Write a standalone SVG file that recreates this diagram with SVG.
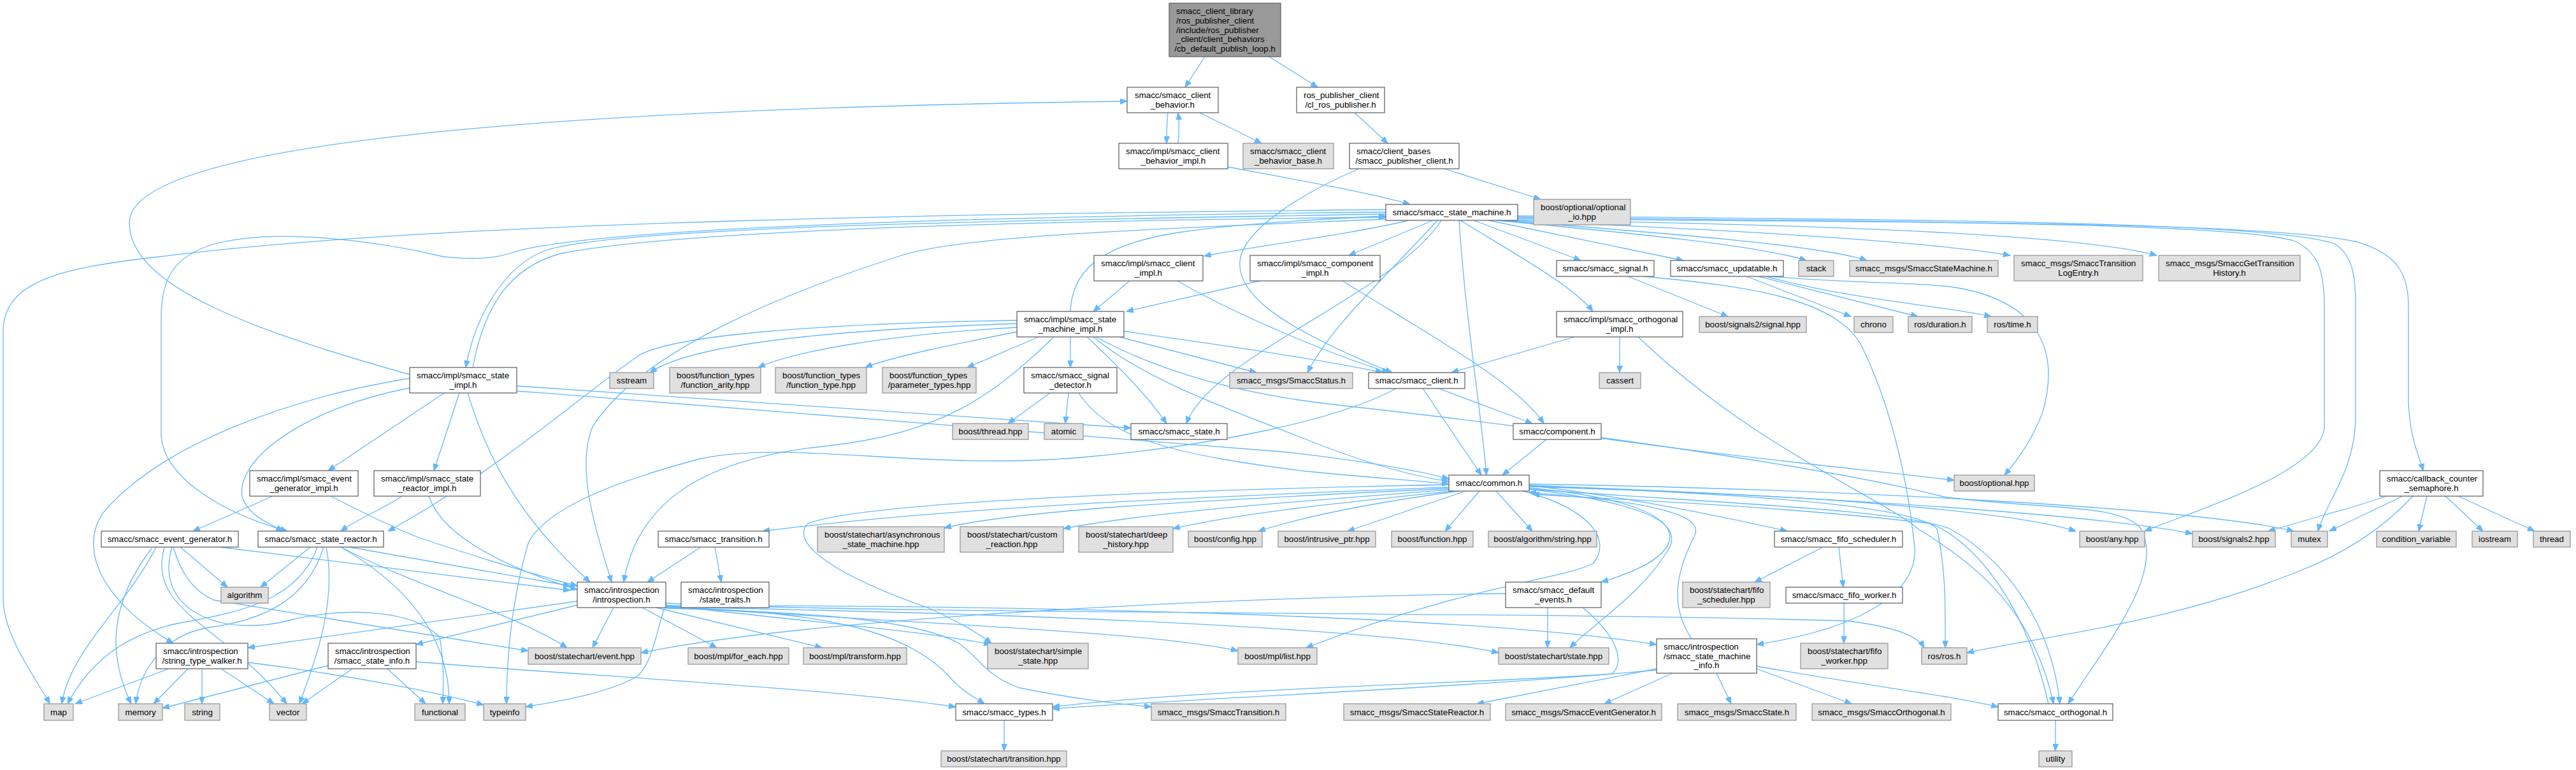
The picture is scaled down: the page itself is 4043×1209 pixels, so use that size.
<svg xmlns="http://www.w3.org/2000/svg" width="4043" height="1209" viewBox="0 0 4043 1209">
<defs>
<style>
text{font-family:"Liberation Sans",Arial,Helvetica,sans-serif;font-size:13.33px;fill:#000}
.m{text-anchor:middle}
rect{stroke-width:1.3}
.w{fill:#fff;stroke:#666}
.g{fill:#e0e0e0;stroke:#999}
.r{fill:#999;stroke:#666}
#edges path{fill:none;stroke:#63b8ff;stroke-width:1.3;marker-end:url(#a)}
</style>
<marker id="a" markerWidth="12" markerHeight="9" refX="11" refY="4.5" orient="auto" markerUnits="userSpaceOnUse"><path d="M0,0 L11,4.5 L0,9 z" fill="#63b8ff" stroke="#63b8ff" stroke-width="1"/></marker>
</defs>
<rect width="4043" height="1209" fill="#fff"/>
<g id="edges">
<path d="M1891,89 L1860,137"/>
<path d="M1992,89 L2068,137"/>
<path d="M1833,177 C1831,195 1831,210 1831,225"/>
<path d="M1849,225 C1851,207 1851,193 1849,177"/>
<path d="M1883,177 L1980,225"/>
<path d="M1927,262 C2050,285 2160,305 2213,321"/>
<path d="M2126,177 L2178,225"/>
<path d="M2267,265 L2418,313"/>
<path d="M2133,265 C2050,300 1950,360 1946,410 C1942,460 2000,510 2185,585"/>
<path d="M643,588 C400,520 203,450 203,350 C203,220 900,170 1769,159"/>
<path d="M2211,346 C2120,368 1960,388 1890,402"/>
<path d="M2249,346 L2117,401"/>
<path d="M2313,346 L2481,409"/>
<path d="M2336,346 L2642,409"/>
<path d="M2348,346 C2550,365 2760,385 2835,409"/>
<path d="M2355,346 C2600,365 2860,385 2930,409"/>
<path d="M2362,346 C2700,360 3020,378 3155,401"/>
<path d="M2370,345 C2800,352 3250,365 3385,401"/>
<path d="M2380,343 C2900,350 3550,345 3700,380 C3770,400 3780,440 3780,480 L3780,630 C3782,690 3797,715 3803,739"/>
<path d="M2380,341 C2900,348 3500,348 3600,378 C3640,395 3648,430 3648,480 L3648,670 C3645,740 3450,800 3366,834"/>
<path d="M2380,339 C2900,345 3560,345 3665,383 C3692,402 3697,430 3697,480 L3697,660 C3695,740 3650,790 3638,834"/>
<path d="M2175,329 C1600,335 700,345 251,403 C100,420 5,440 5,520 L5,940 C5,1000 60,1070 78,1105"/>
<path d="M2175,336 C1700,345 1000,352 860,392 C790,415 745,500 731,577"/>
<path d="M742,577 C760,480 800,420 880,398 C1100,355 1800,345 2175,341"/>
<path d="M2292,346 C2380,400 2470,450 2500,489"/>
<path d="M2256,346 C2180,430 2090,510 2052,585"/>
<path d="M2262,346 C2190,460 1900,560 1862,665"/>
<path d="M2290,346 C2300,500 2325,650 2333,746"/>
<path d="M2175,344 C1800,360 1500,370 1409,403 C1200,470 1000,560 930,670 C905,730 930,820 960,914"/>
<path d="M2175,333 C1500,340 900,360 800,398 C760,410 720,405 696,403 C600,380 430,355 330,385 C270,405 253,440 253,500 L253,680 C253,740 330,800 451,834"/>
<path d="M1680,489 C1682,430 1720,385 1850,365 C1950,350 2100,343 2175,339"/>
<path d="M1596,508 C1400,515 1100,530 1020,585"/>
<path d="M1596,514 C1400,525 1250,550 1190,577"/>
<path d="M1596,521 C1500,540 1400,560 1358,577"/>
<path d="M1630,529 L1518,577"/>
<path d="M1680,529 L1680,577"/>
<path d="M1757,529 L1972,585"/>
<path d="M1706,529 C1760,580 1800,620 1831,665"/>
<path d="M1764,520 C1900,540 2050,560 2170,585"/>
<path d="M1716,529 C1800,600 1950,650 2050,690 C2150,730 2220,748 2274,756"/>
<path d="M1654,529 C1560,620 1480,680 1300,700 C1100,720 1000,790 979,914"/>
<path d="M1596,503 C1300,508 1050,525 1000,560 C900,630 780,740 609,834"/>
<path d="M1720,529 C1850,600 2000,625 2100,636 C2500,680 2900,740 3050,780 C3200,800 3330,790 3360,830 C3400,900 3300,1020 3246,1105"/>
<path d="M1648,617 L1582,665"/>
<path d="M1677,617 L1672,665"/>
<path d="M1693,617 C1740,690 1850,715 2050,740 C2150,750 2230,755 2274,760"/>
<path d="M1773,441 L1716,489"/>
<path d="M1848,441 C1950,500 2100,560 2180,585"/>
<path d="M1977,441 L1768,489"/>
<path d="M2107,441 C2250,530 2380,600 2423,665"/>
<path d="M2471,529 L2278,585"/>
<path d="M2542,529 L2542,585"/>
<path d="M2571,529 C2750,700 2950,780 3010,830 C3090,880 3190,950 3223,1105"/>
<path d="M2555,434 L2712,497"/>
<path d="M2580,434 C2750,450 2880,470 2920,540 C2970,640 2995,760 3005,860 C3010,940 2900,990 2757,1012"/>
<path d="M2741,434 L2905,497"/>
<path d="M2760,434 L3010,497"/>
<path d="M2772,434 C2900,470 3050,480 3125,497"/>
<path d="M2780,434 C2900,445 3000,443 3060,450 C3200,470 3235,550 3205,650 C3185,700 3160,730 3146,746"/>
<path d="M2233,610 L2325,746"/>
<path d="M2258,610 L2405,665"/>
<path d="M2191,610 C2100,660 1900,700 1700,718 C1450,740 1250,690 1100,720 C950,760 860,800 830,850 C800,950 795,1050 795,1105"/>
<path d="M2427,690 L2358,746"/>
<path d="M2513,688 C2700,715 2950,740 3067,754"/>
<path d="M697,617 L515,739"/>
<path d="M721,617 L681,739"/>
<path d="M811,606 C1200,635 1500,655 1775,672"/>
<path d="M811,614 C1300,650 1800,690 2020,710 C2150,725 2230,740 2274,752"/>
<path d="M734,617 C760,700 800,800 926,914"/>
<path d="M643,594 C450,625 250,700 161,806 C120,870 170,950 272,1010"/>
<path d="M644,609 C480,640 370,720 380,780 C390,810 420,820 444,834"/>
<path d="M428,779 L303,834"/>
<path d="M519,779 C560,800 620,830 660,845 C750,875 850,905 906,920"/>
<path d="M631,779 C600,800 560,815 535,834"/>
<path d="M673,779 C690,830 760,880 906,926"/>
<path d="M2274,765 C1900,780 1500,795 1197,834"/>
<path d="M2274,767 C1900,785 1600,800 1482,829"/>
<path d="M2274,769 C2000,790 1800,805 1669,830"/>
<path d="M2280,771 C2100,790 1950,805 1841,830"/>
<path d="M2290,771 C2150,790 2050,810 1975,834"/>
<path d="M2300,771 L2115,834"/>
<path d="M2322,771 L2268,834"/>
<path d="M2348,771 L2405,834"/>
<path d="M2400,766 C2550,780 2630,810 2620,850 C2610,880 2560,900 2513,914"/>
<path d="M2400,762 C2550,780 2700,810 2805,834"/>
<path d="M2400,768 C2580,790 2640,820 2620,860 C2580,930 2500,980 2464,1017"/>
<path d="M2390,771 C2500,800 2530,850 2500,885 C2450,910 2300,920 2050,1017"/>
<path d="M2274,761 C1800,770 1350,790 1268,822 C1240,850 1300,900 1461,956 C1500,975 1530,990 1556,1010"/>
<path d="M2400,762 C2700,775 3000,790 3040,830 C3055,900 3053,960 3053,1017"/>
<path d="M2400,763 C2800,775 3150,800 3258,834"/>
<path d="M2400,764 C2900,780 3300,810 3441,838"/>
<path d="M2400,760 C2900,768 3450,798 3600,834"/>
<path d="M2400,768 C2700,790 2980,800 3060,830 C3150,880 3220,980 3233,1105"/>
<path d="M3215,1105 C3180,950 3100,850 3030,822 C2800,795 2550,785 2405,776"/>
<path d="M2655,1003 C2620,950 2630,900 2660,840 C2680,795 2500,782 2400,773"/>
<path d="M2600,1050 L2318,1105"/>
<path d="M2625,1057 L2518,1105"/>
<path d="M2694,1057 L2717,1105"/>
<path d="M2757,1050 L2906,1105"/>
<path d="M2757,1046 C2950,1080 3050,1090 3136,1110"/>
<path d="M2600,1052 C2300,1080 1900,1095 1652,1113"/>
<path d="M2429,954 L2429,1017"/>
<path d="M2363,932 C2000,936 1300,965 1006,1025"/>
<path d="M2484,954 C2540,1000 2550,1040 2530,1058 C2400,1070 1900,1080 1652,1110"/>
<path d="M1100,859 L1016,914"/>
<path d="M1122,859 L1132,914"/>
<path d="M906,944 L389,1017"/>
<path d="M906,950 L653,1012"/>
<path d="M963,954 L930,1017"/>
<path d="M1045,948 C1030,990 1025,1040 1000,1062 C950,1090 880,1100 825,1110"/>
<path d="M1008,954 L1125,1017"/>
<path d="M1030,954 L1290,1017"/>
<path d="M1045,950 C1250,975 1450,990 1555,1012"/>
<path d="M1045,952 C1400,978 1800,990 1943,1022"/>
<path d="M1045,953 C1700,965 2200,990 2352,1025"/>
<path d="M1045,951 C1600,950 2300,965 2600,1012"/>
<path d="M1045,947 C1400,965 2400,960 2900,975 C2980,985 3010,1000 3020,1017"/>
<path d="M1045,954 C1300,959 1430,993 1493,1066 C1510,1085 1530,1095 1545,1105"/>
<path d="M1045,955 C1300,962 1440,975 1505,1010 C1540,1035 1545,1060 1600,1080 C1700,1100 1760,1105 1807,1110"/>
<path d="M283,859 L357,922"/>
<path d="M245,859 C200,950 110,1020 97,1105"/>
<path d="M238,861 C170,950 170,1030 206,1105"/>
<path d="M258,859 C230,960 350,980 450,1105"/>
<path d="M270,859 C240,960 350,1000 450,975 C550,950 650,960 690,1000 C697,1040 696,1070 695,1105"/>
<path d="M272,859 C290,920 320,935 335,942 L829,1022"/>
<path d="M345,859 L895,927"/>
<path d="M487,859 L409,922"/>
<path d="M498,859 C470,940 380,960 300,975 C200,990 140,1040 106,1105"/>
<path d="M508,859 C480,950 400,975 330,985 C260,995 220,1050 213,1105"/>
<path d="M512,859 C530,950 490,1050 470,1105"/>
<path d="M535,859 C640,920 705,1000 705,1105"/>
<path d="M535,859 C650,920 800,960 890,1017"/>
<path d="M548,859 L895,920"/>
<path d="M265,1050 L118,1105"/>
<path d="M295,1050 L241,1105"/>
<path d="M317,1050 L317,1105"/>
<path d="M347,1050 L430,1105"/>
<path d="M389,1040 C550,1060 700,1090 759,1107"/>
<path d="M515,1045 L255,1112"/>
<path d="M553,1050 L474,1105"/>
<path d="M608,1050 L668,1105"/>
<path d="M653,1039 C900,1060 1300,1080 1500,1110"/>
<path d="M2861,859 L2754,914"/>
<path d="M2886,859 L2893,922"/>
<path d="M2894,947 L2894,1010"/>
<path d="M1576,1131 L1576,1179"/>
<path d="M3226,1131 L3226,1179"/>
<path d="M3745,779 C3700,795 3660,805 3650,808 L3560,834"/>
<path d="M3771,779 L3656,834"/>
<path d="M3809,779 L3796,834"/>
<path d="M3838,779 L3897,834"/>
<path d="M3858,779 L3978,834"/>
<path d="M3787,779 C3740,830 3680,870 3600,900 C3400,980 3200,1000 3087,1025"/>
</g>
<g id="n0"><rect class="r" x="1835" y="5" width="175" height="84"/><text x="1846" y="22">smacc_client_library</text><text x="1846" y="37">/ros_publisher_client</text><text x="1846" y="51.5">/include/ros_publisher</text><text x="1846" y="66">_client/client_behaviors</text><text class="m" x="1922.5" y="81">/cb_default_publish_loop.h</text></g>
<g id="n1"><rect class="w" x="1769" y="137" width="143" height="40"/><text x="1781" y="154">smacc/smacc_client</text><text class="m" x="1840.5" y="169">_behavior.h</text></g>
<g id="n2"><rect class="w" x="1756" y="225" width="171" height="40"/><text x="1767" y="242">smacc/impl/smacc_client</text><text class="m" x="1841.5" y="257">_behavior_impl.h</text></g>
<g id="n3"><rect class="g" x="1951" y="225" width="142" height="40"/><text x="1962" y="242">smacc/smacc_client</text><text class="m" x="2022" y="257">_behavior_base.h</text></g>
<g id="n4"><rect class="w" x="2035" y="137" width="138" height="40"/><text x="2046" y="154">ros_publisher_client</text><text class="m" x="2104" y="169">/cl_ros_publisher.h</text></g>
<g id="n5"><rect class="w" x="2118" y="225" width="172" height="40"/><text x="2129" y="242">smacc/client_bases</text><text class="m" x="2204" y="257">/smacc_publisher_client.h</text></g>
<g id="n6"><rect class="w" x="2175" y="321" width="207" height="25"/><text class="m" x="2278.5" y="338">smacc/smacc_state_machine.h</text></g>
<g id="n7"><rect class="g" x="2407" y="313" width="152" height="40"/><text x="2418" y="330">boost/optional/optional</text><text class="m" x="2483" y="345">_io.hpp</text></g>
<g id="n8"><rect class="w" x="1717" y="401" width="171" height="40"/><text x="1728" y="418">smacc/impl/smacc_client</text><text class="m" x="1802.5" y="433">_impl.h</text></g>
<g id="n9"><rect class="w" x="1962" y="401" width="204" height="40"/><text x="1973" y="418">smacc/impl/smacc_component</text><text class="m" x="2064" y="433">_impl.h</text></g>
<g id="n10"><rect class="w" x="2443" y="409" width="153" height="25"/><text class="m" x="2519.5" y="426">smacc/smacc_signal.h</text></g>
<g id="n11"><rect class="w" x="2622" y="409" width="177" height="25"/><text class="m" x="2710.5" y="426">smacc/smacc_updatable.h</text></g>
<g id="n12"><rect class="g" x="2823" y="409" width="55" height="25"/><text class="m" x="2850.5" y="426">stack</text></g>
<g id="n13"><rect class="g" x="2903" y="409" width="233" height="25"/><text class="m" x="3019.5" y="426">smacc_msgs/SmaccStateMachine.h</text></g>
<g id="n14"><rect class="g" x="3161" y="401" width="202" height="40"/><text x="3172" y="418">smacc_msgs/SmaccTransition</text><text class="m" x="3262" y="433">LogEntry.h</text></g>
<g id="n15"><rect class="g" x="3388" y="401" width="222" height="40"/><text x="3399" y="418">smacc_msgs/SmaccGetTransition</text><text class="m" x="3499" y="433">History.h</text></g>
<g id="n16"><rect class="w" x="3735" y="739" width="162" height="40"/><text x="3746" y="756">smacc/callback_counter</text><text class="m" x="3816" y="771">_semaphore.h</text></g>
<g id="n17"><rect class="w" x="1596" y="489" width="168" height="40"/><text x="1607" y="506">smacc/impl/smacc_state</text><text class="m" x="1680" y="521">_machine_impl.h</text></g>
<g id="n18"><rect class="w" x="2443" y="489" width="198" height="40"/><text x="2454" y="506">smacc/impl/smacc_orthogonal</text><text class="m" x="2542" y="521">_impl.h</text></g>
<g id="n19"><rect class="g" x="2667" y="497" width="168" height="25"/><text class="m" x="2751" y="514">boost/signals2/signal.hpp</text></g>
<g id="n20"><rect class="g" x="2910" y="497" width="61" height="25"/><text class="m" x="2940.5" y="514">chrono</text></g>
<g id="n21"><rect class="g" x="2995" y="497" width="100" height="25"/><text class="m" x="3045" y="514">ros/duration.h</text></g>
<g id="n22"><rect class="g" x="3119" y="497" width="79" height="25"/><text class="m" x="3158.5" y="514">ros/time.h</text></g>
<g id="n23"><rect class="w" x="643" y="577" width="168" height="40"/><text x="654" y="594">smacc/impl/smacc_state</text><text class="m" x="727" y="609">_impl.h</text></g>
<g id="n24"><rect class="g" x="957" y="585" width="69" height="25"/><text class="m" x="991.5" y="602">sstream</text></g>
<g id="n25"><rect class="g" x="1051" y="577" width="143" height="40"/><text x="1062" y="594">boost/function_types</text><text class="m" x="1122.5" y="609">/function_arity.hpp</text></g>
<g id="n26"><rect class="g" x="1217" y="577" width="143" height="40"/><text x="1228" y="594">boost/function_types</text><text class="m" x="1288.5" y="609">/function_type.hpp</text></g>
<g id="n27"><rect class="g" x="1385" y="577" width="147" height="40"/><text x="1396" y="594">boost/function_types</text><text class="m" x="1458.5" y="609">/parameter_types.hpp</text></g>
<g id="n28"><rect class="w" x="1607" y="577" width="146" height="40"/><text x="1618" y="594">smacc/smacc_signal</text><text class="m" x="1680" y="609">_detector.h</text></g>
<g id="n29"><rect class="g" x="1930" y="585" width="193" height="25"/><text class="m" x="2026.5" y="602">smacc_msgs/SmaccStatus.h</text></g>
<g id="n30"><rect class="w" x="2148" y="585" width="151" height="25"/><text class="m" x="2223.5" y="602">smacc/smacc_client.h</text></g>
<g id="n31"><rect class="g" x="2510" y="585" width="65" height="25"/><text class="m" x="2542.5" y="602">cassert</text></g>
<g id="n32"><rect class="g" x="1495" y="665" width="119" height="25"/><text class="m" x="1554.5" y="682">boost/thread.hpp</text></g>
<g id="n33"><rect class="g" x="1639" y="665" width="61" height="25"/><text class="m" x="1669.5" y="682">atomic</text></g>
<g id="n34"><rect class="w" x="1775" y="665" width="151" height="25"/><text class="m" x="1850.5" y="682">smacc/smacc_state.h</text></g>
<g id="n35"><rect class="w" x="2375" y="665" width="138" height="25"/><text class="m" x="2444" y="682">smacc/component.h</text></g>
<g id="n36"><rect class="w" x="392" y="739" width="170" height="40"/><text x="403" y="756">smacc/impl/smacc_event</text><text class="m" x="477" y="771">_generator_impl.h</text></g>
<g id="n37"><rect class="w" x="587" y="739" width="167" height="40"/><text x="598" y="756">smacc/impl/smacc_state</text><text class="m" x="670.5" y="771">_reactor_impl.h</text></g>
<g id="n38"><rect class="w" x="2274" y="746" width="126" height="25"/><text class="m" x="2337" y="763">smacc/common.h</text></g>
<g id="n39"><rect class="g" x="3067" y="746" width="126" height="25"/><text class="m" x="3130" y="763">boost/optional.hpp</text></g>
<g id="n40"><rect class="w" x="159" y="834" width="215" height="25"/><text class="m" x="266.5" y="851">smacc/smacc_event_generator.h</text></g>
<g id="n41"><rect class="w" x="405" y="834" width="197" height="25"/><text class="m" x="503.5" y="851">smacc/smacc_state_reactor.h</text></g>
<g id="n42"><rect class="w" x="1033" y="834" width="174" height="25"/><text class="m" x="1120" y="851">smacc/smacc_transition.h</text></g>
<g id="n43"><rect class="g" x="1283" y="827" width="199" height="40"/><text x="1294" y="844">boost/statechart/asynchronous</text><text class="m" x="1382.5" y="859">_state_machine.hpp</text></g>
<g id="n44"><rect class="g" x="1507" y="827" width="162" height="40"/><text x="1518" y="844">boost/statechart/custom</text><text class="m" x="1588" y="859">_reaction.hpp</text></g>
<g id="n45"><rect class="g" x="1693" y="827" width="148" height="40"/><text x="1704" y="844">boost/statechart/deep</text><text class="m" x="1767" y="859">_history.hpp</text></g>
<g id="n46"><rect class="g" x="1865" y="834" width="116" height="25"/><text class="m" x="1923" y="851">boost/config.hpp</text></g>
<g id="n47"><rect class="g" x="2006" y="834" width="153" height="25"/><text class="m" x="2082.5" y="851">boost/intrusive_ptr.hpp</text></g>
<g id="n48"><rect class="g" x="2184" y="834" width="128" height="25"/><text class="m" x="2248" y="851">boost/function.hpp</text></g>
<g id="n49"><rect class="g" x="2336" y="834" width="170" height="25"/><text class="m" x="2421" y="851">boost/algorithm/string.hpp</text></g>
<g id="n50"><rect class="w" x="2785" y="834" width="201" height="25"/><text class="m" x="2885.5" y="851">smacc/smacc_fifo_scheduler.h</text></g>
<g id="n51"><rect class="g" x="3264" y="834" width="102" height="25"/><text class="m" x="3315" y="851">boost/any.hpp</text></g>
<g id="n52"><rect class="g" x="3441" y="834" width="130" height="25"/><text class="m" x="3506" y="851">boost/signals2.hpp</text></g>
<g id="n53"><rect class="g" x="3596" y="834" width="57" height="25"/><text class="m" x="3624.5" y="851">mutex</text></g>
<g id="n54"><rect class="g" x="3730" y="834" width="125" height="25"/><text class="m" x="3792.5" y="851">condition_variable</text></g>
<g id="n55"><rect class="g" x="3880" y="834" width="71" height="25"/><text class="m" x="3915.5" y="851">iostream</text></g>
<g id="n56"><rect class="g" x="3976" y="834" width="58" height="25"/><text class="m" x="4005" y="851">thread</text></g>
<g id="n57"><rect class="g" x="347" y="922" width="74" height="25"/><text class="m" x="384" y="939">algorithm</text></g>
<g id="n58"><rect class="w" x="906" y="914" width="139" height="40"/><text x="917" y="931">smacc/introspection</text><text class="m" x="975.5" y="946">/introspection.h</text></g>
<g id="n59"><rect class="w" x="1069" y="914" width="138" height="40"/><text x="1080" y="931">smacc/introspection</text><text class="m" x="1138" y="946">/state_traits.h</text></g>
<g id="n60"><rect class="w" x="2363" y="914" width="150" height="40"/><text x="2374" y="931">smacc/smacc_default</text><text class="m" x="2438" y="946">_events.h</text></g>
<g id="n61"><rect class="g" x="2641" y="914" width="137" height="40"/><text x="2652" y="931">boost/statechart/fifo</text><text class="m" x="2709.5" y="946">_scheduler.hpp</text></g>
<g id="n62"><rect class="w" x="2803" y="922" width="183" height="25"/><text class="m" x="2894.5" y="939">smacc/smacc_fifo_worker.h</text></g>
<g id="n63"><rect class="w" x="245" y="1010" width="144" height="40"/><text x="256" y="1027">smacc/introspection</text><text class="m" x="317" y="1042">/string_type_walker.h</text></g>
<g id="n64"><rect class="w" x="515" y="1010" width="138" height="40"/><text x="526" y="1027">smacc/introspection</text><text class="m" x="584" y="1042">/smacc_state_info.h</text></g>
<g id="n65"><rect class="g" x="829" y="1017" width="177" height="26"/><text class="m" x="917.5" y="1034.5">boost/statechart/event.hpp</text></g>
<g id="n66"><rect class="g" x="1080" y="1017" width="158" height="26"/><text class="m" x="1159" y="1034.5">boost/mpl/for_each.hpp</text></g>
<g id="n67"><rect class="g" x="1261" y="1017" width="162" height="26"/><text class="m" x="1342" y="1034.5">boost/mpl/transform.hpp</text></g>
<g id="n68"><rect class="g" x="1550" y="1010" width="158" height="40"/><text x="1561" y="1027">boost/statechart/simple</text><text class="m" x="1629" y="1042">_state.hpp</text></g>
<g id="n69"><rect class="g" x="1943" y="1017" width="124" height="26"/><text class="m" x="2005" y="1034.5">boost/mpl/list.hpp</text></g>
<g id="n70"><rect class="g" x="2352" y="1017" width="173" height="26"/><text class="m" x="2438.5" y="1034.5">boost/statechart/state.hpp</text></g>
<g id="n71"><rect class="w" x="2600" y="1003" width="157" height="54"/><text x="2611" y="1020">smacc/introspection</text><text x="2611" y="1034.5">/smacc_state_machine</text><text class="m" x="2678.5" y="1049">_info.h</text></g>
<g id="n72"><rect class="g" x="2826" y="1010" width="137" height="40"/><text x="2837" y="1027">boost/statechart/fifo</text><text class="m" x="2894.5" y="1042">_worker.hpp</text></g>
<g id="n73"><rect class="g" x="3016" y="1017" width="71" height="26"/><text class="m" x="3051.5" y="1034.5">ros/ros.h</text></g>
<g id="n74"><rect class="g" x="69" y="1105" width="46" height="26"/><text class="m" x="92" y="1122.5">map</text></g>
<g id="n75"><rect class="g" x="186" y="1105" width="69" height="26"/><text class="m" x="220.5" y="1122.5">memory</text></g>
<g id="n76"><rect class="g" x="290" y="1105" width="55" height="26"/><text class="m" x="317.5" y="1122.5">string</text></g>
<g id="n77"><rect class="g" x="423" y="1105" width="58" height="26"/><text class="m" x="452" y="1122.5">vector</text></g>
<g id="n78"><rect class="g" x="651" y="1105" width="79" height="26"/><text class="m" x="690.5" y="1122.5">functional</text></g>
<g id="n79"><rect class="g" x="759" y="1105" width="66" height="26"/><text class="m" x="792" y="1122.5">typeinfo</text></g>
<g id="n80"><rect class="w" x="1500" y="1105" width="152" height="26"/><text class="m" x="1576" y="1122.5">smacc/smacc_types.h</text></g>
<g id="n81"><rect class="g" x="1807" y="1105" width="211" height="26"/><text class="m" x="1912.5" y="1122.5">smacc_msgs/SmaccTransition.h</text></g>
<g id="n82"><rect class="g" x="2109" y="1105" width="230" height="26"/><text class="m" x="2224" y="1122.5">smacc_msgs/SmaccStateReactor.h</text></g>
<g id="n83"><rect class="g" x="2363" y="1105" width="245" height="26"/><text class="m" x="2485.5" y="1122.5">smacc_msgs/SmaccEventGenerator.h</text></g>
<g id="n84"><rect class="g" x="2633" y="1105" width="186" height="26"/><text class="m" x="2726" y="1122.5">smacc_msgs/SmaccState.h</text></g>
<g id="n85"><rect class="g" x="2844" y="1105" width="218" height="26"/><text class="m" x="2953" y="1122.5">smacc_msgs/SmaccOrthogonal.h</text></g>
<g id="n86"><rect class="w" x="3136" y="1105" width="180" height="26"/><text class="m" x="3226" y="1122.5">smacc/smacc_orthogonal.h</text></g>
<g id="n87"><rect class="g" x="1477" y="1179" width="197" height="25"/><text class="m" x="1575.5" y="1196">boost/statechart/transition.hpp</text></g>
<g id="n88"><rect class="g" x="3200" y="1179" width="52" height="25"/><text class="m" x="3226" y="1196">utility</text></g>
</svg>
